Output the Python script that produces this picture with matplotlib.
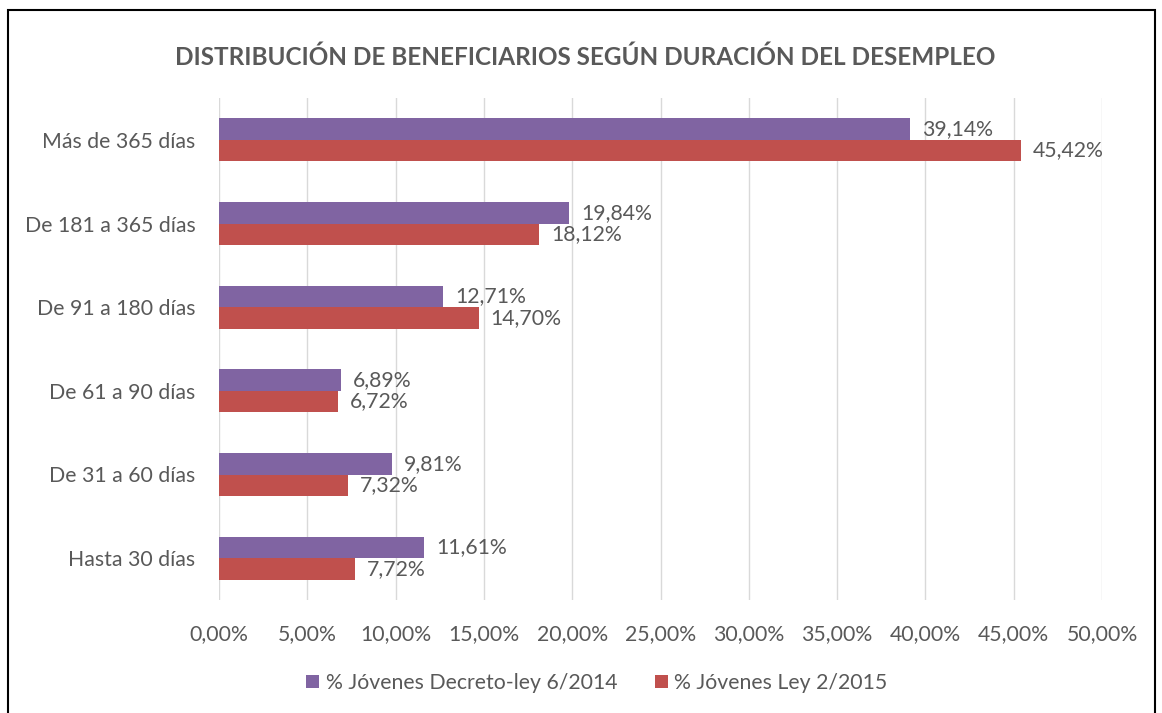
import matplotlib
matplotlib.use("Agg")
import matplotlib.pyplot as plt
from matplotlib.patches import Rectangle
import numpy as np

categories = ["Hasta 30 días", "De 31 a 60 días", "De 61 a 90 días",
              "De 91 a 180 días", "De 181 a 365 días", "Más de 365 días"]
decreto = [11.61, 9.81, 6.89, 12.71, 19.84, 39.14]
ley = [7.72, 7.32, 6.72, 14.70, 18.12, 45.42]
series_names = ["% Jóvenes Decreto-ley 6/2014", "% Jóvenes Ley 2/2015"]
xticks = [0, 5, 10, 15, 20, 25, 30, 35, 40, 45, 50]

plt.rcParams['font.family'] = ['Lato', 'DejaVu Sans']
txt = '#595959'
purple = '#8064A2'
red = '#C0504D'
fs = 15.3

fig = plt.figure(figsize=(11.62, 7.13), dpi=100)
ax = fig.add_axes([219/1162, 1-600/713, (1102-219)/1162, (600-98)/713])

y = np.arange(len(categories))
h = 0.257
ax.barh(y + h/2, decreto, height=h, color=purple, label=series_names[0], zorder=3)
ax.barh(y - h/2, ley, height=h, color=red, label=series_names[1], zorder=3)

fmt = lambda v: f"{v:.2f}%".replace('.', ',')
for yi, v in zip(y + h/2, decreto):
    ax.annotate(fmt(v), (v, yi), xytext=(12, 0), textcoords='offset pixels',
                va='center', ha='left', fontsize=fs, color=txt)
for yi, v in zip(y - h/2, ley):
    ax.annotate(fmt(v), (v, yi), xytext=(12, 0), textcoords='offset pixels',
                va='center', ha='left', fontsize=fs, color=txt)

ax.set_xlim(0, 50)
ax.set_ylim(-0.5, len(categories) - 0.5)
ax.set_xticks(xticks)
ax.set_xticklabels([f"{t:.2f}%".replace('.', ',') for t in xticks], fontsize=fs, color=txt)
ax.set_yticks(y)
ax.set_yticklabels(categories, fontsize=fs, color=txt)
ax.tick_params(axis='both', length=0)
ax.tick_params(axis='x', pad=17)
ax.tick_params(axis='y', pad=17)
ax.grid(axis='x', color='#D9D9D9', linewidth=1, zorder=0)
for s in ax.spines.values():
    s.set_visible(False)

fig.text(585/1162, 1-57/713, "DISTRIBUCIÓN DE BENEFICIARIOS SEGÚN DURACIÓN DEL DESEMPLEO",
         ha='center', va='center', fontsize=17.5, fontweight='bold', color=txt)

leg = fig.legend(loc='center', bbox_to_anchor=(597/1162, 1-683/713), ncol=2, frameon=False,
                 fontsize=fs, handlelength=0.6, handleheight=0.6, handletextpad=0.3,
                 columnspacing=1.8)
for t in leg.get_texts():
    t.set_color(txt)

fig.patches.append(Rectangle((8/1162, -0.01), (1155-8)/1162, 1-10/713+0.01,
                             transform=fig.transFigure, fill=False,
                             edgecolor='black', linewidth=1.5))

fig.savefig("out.png", dpi=100)
